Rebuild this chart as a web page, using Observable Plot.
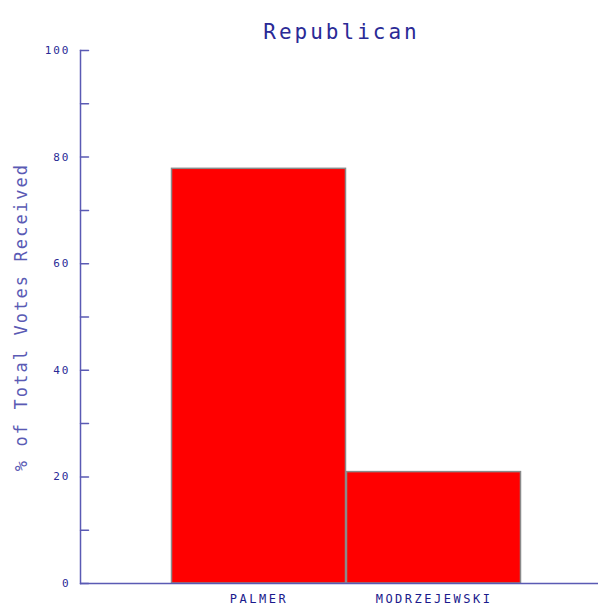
<!DOCTYPE html>
<html>
<head>
<meta charset="utf-8">
<script src="https://cdn.jsdelivr.net/npm/d3@7"></script>
<script src="https://cdn.jsdelivr.net/npm/@observablehq/plot@0.6"></script>
<style>
  body { margin: 0; background: #fff; }
</style>
</head>
<body>
<div id="chart"></div>
<script>
const title = "Republican";
const candidates = ["PALMER", "MODRZEJEWSKI"];
const votes = [77.8, 20.9];
const yLabel = "% of Total Votes Received";
const yTickLabels = [0, 20, 40, 60, 80, 100];
const yMinorTicks = [0, 10, 20, 30, 40, 50, 60, 70, 80, 90, 100];

const data = candidates.map((c, i) => ({candidate: c, pct: votes[i]}));
const axisColor = "#5a5ab4";
const textColor = "#2a2a96";
const mono = "'DejaVu Sans Mono', 'Liberation Mono', monospace";
const tickShape = {draw(context, l) { context.moveTo(0, 0); context.lineTo(0, -l); }};

const chart = Plot.plot({
  width: 600,
  height: 606,
  marginLeft: 80,
  marginRight: 2,
  marginTop: 50,
  marginBottom: 23,
  style: {fontFamily: mono, background: "#fff"},
  x: {domain: candidates, range: [170, 521], padding: 0},
  y: {domain: [0, 100]},
  marks: [
    Plot.barY(data, {x: "candidate", y: "pct", fill: "#ff0000", stroke: "#8a8a8a", strokeWidth: 1.5, insetLeft: 0.5, insetRight: 0.5}),
    Plot.ruleY([0], {stroke: axisColor, strokeWidth: 1.5}),
    Plot.frame({anchor: "left", stroke: axisColor, strokeWidth: 1.5}),
    Plot.axisY({ticks: yTickLabels, tickSize: 0, tickPadding: 10, stroke: axisColor, color: textColor,
      fontSize: 11, label: yLabel, labelAnchor: "center", labelArrow: "none", labelOffset: 66}),
    Plot.vector(yMinorTicks, {y: d => d, frameAnchor: "left", length: 8, rotate: 90, anchor: "start", shape: tickShape, stroke: axisColor, strokeWidth: 1.5}),
    Plot.axisX({tickSize: 0, tickPadding: 11, fontSize: 12, color: "#1a1a8c", label: null}),
    Plot.text([title], {frameAnchor: "top", dy: -26, dx: 2, fontSize: 21, fill: "#2a2a96"})
  ]
});
// font tweaks
chart.querySelectorAll("[aria-label='y-axis label'] text").forEach(t => { t.setAttribute("font-size", 17); t.setAttribute("fill", "#5a5ab4"); t.style.letterSpacing = "2.1px"; });
chart.querySelectorAll("[aria-label='y-axis tick label'] text").forEach(t => { t.style.letterSpacing = "2px"; });
chart.querySelectorAll("[aria-label='x-axis tick label'] text").forEach(t => { t.style.letterSpacing = "2.5px"; });
chart.querySelectorAll("[aria-label='text'] text").forEach(t => { t.style.letterSpacing = "3px"; });
document.getElementById("chart").appendChild(chart);
</script>
</body>
</html>
